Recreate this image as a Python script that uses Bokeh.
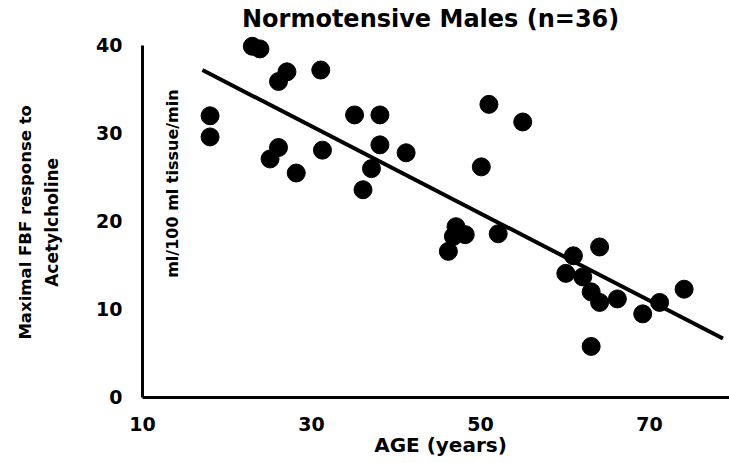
import math
from bokeh.plotting import figure
from bokeh.models import Label, FixedTicker
from bokeh.embed import file_html
from bokeh.resources import INLINE

# Data
age = [18.0, 18.0, 23.0, 23.9, 27.1, 26.1, 31.1, 26.1, 25.1, 28.2,
       31.3, 35.1, 38.1, 38.1, 37.1, 36.1, 41.2, 51.0, 55.0, 50.1,
       47.1, 46.8, 48.2, 46.2, 52.1, 64.1, 61.0, 60.1, 62.1, 63.1,
       64.1, 66.2, 69.2, 71.2, 74.1, 63.1]
fbf = [32.0, 29.6, 39.9, 39.6, 37.0, 35.9, 37.2, 28.4, 27.1, 25.5,
       28.1, 32.1, 32.1, 28.7, 26.0, 23.6, 27.8, 33.3, 31.3, 26.2,
       19.4, 18.3, 18.5, 16.6, 18.6, 17.1, 16.1, 14.1, 13.7, 12.0,
       10.8, 11.2, 9.5, 10.8, 12.3, 5.8]
fit_age = [17.1, 78.7]
fit_fbf = [37.2, 6.7]
x_ticks = [10, 30, 50, 70]
y_ticks = [0, 10, 20, 30, 40]

title_text = "Normotensive Males (n=36)"
x_label = "AGE (years)"
y_label_1 = "Maximal FBF response to"
y_label_2 = "Acetylcholine"
unit_label = "ml/100 ml tissue/min"

FONT = "DejaVu Sans"

p = figure(width=729, height=463, x_range=(-6.8, 79.47), y_range=(-7.5, 45.1),
           output_backend="svg", toolbar_location=None,
           min_border_left=0, min_border_right=0,
           min_border_top=0, min_border_bottom=0)
p.background_fill_color = "white"
p.border_fill_color = "white"
p.outline_line_color = None
p.grid.visible = False

for ax in (p.xaxis[0], p.yaxis[0]):
    ax.axis_line_width = 3
    ax.axis_line_color = "black"
    ax.major_tick_line_color = None
    ax.minor_tick_line_color = None
    ax.major_tick_out = 0
    ax.major_tick_in = 0
    ax.major_label_text_font = FONT
    ax.major_label_text_font_style = "bold"
    ax.major_label_text_font_size = "19px"
    ax.major_label_text_color = "black"

xax = p.xaxis[0]
yax = p.yaxis[0]
xax.ticker = FixedTicker(ticks=x_ticks)
yax.ticker = FixedTicker(ticks=y_ticks)
xax.fixed_location = 0
yax.fixed_location = 10
xax.bounds = (10, 79.47)
yax.bounds = (0, 40)
xax.major_label_standoff = 20
yax.major_label_standoff = 20

p.line(fit_age, fit_fbf, line_width=4, line_color="black")
p.scatter(age, fbf, size=18, fill_color="black", line_color="black")

def lab(text, x, y, size, angle=0.0):
    p.add_layout(Label(x=x, y=y, text=text, text_font=FONT,
                       text_font_style="bold", text_font_size=size,
                       text_color="black", text_align="center",
                       text_baseline="middle", angle=angle))

lab(title_text, 44.1, 42.95, "24px")
lab(x_label, 45.27, -5.45, "20px")
lab(y_label_1, -3.85, 19.9, "16.5px", math.pi / 2)
lab(y_label_2, -0.65, 19.9, "17px", math.pi / 2)
lab(unit_label, 13.5, 24.3, "16px", math.pi / 2)

open("out.html", "w").write(file_html(p, INLINE))
